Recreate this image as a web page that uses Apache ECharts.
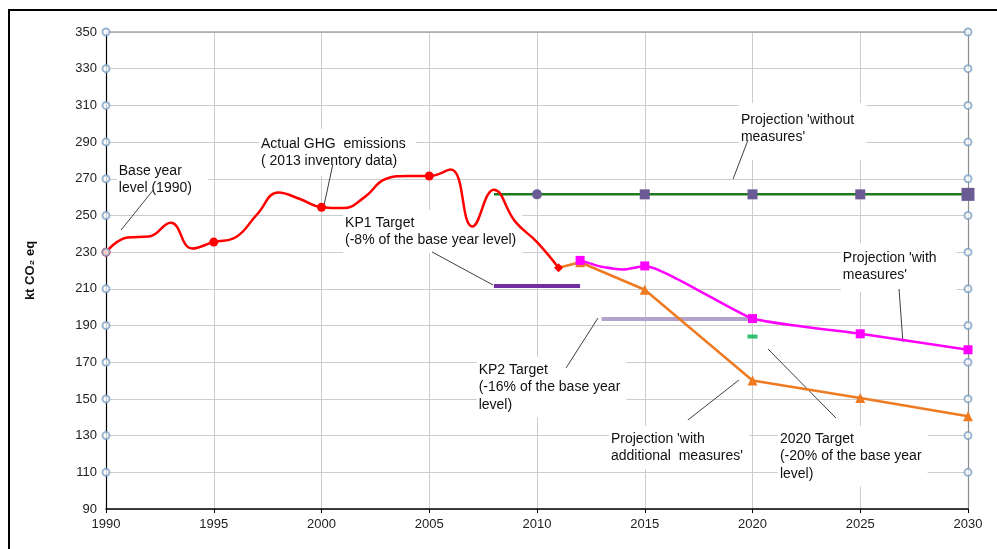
<!DOCTYPE html>
<html>
<head>
<meta charset="utf-8">
<script src="https://cdn.jsdelivr.net/npm/echarts@6/dist/echarts.min.js"></script>
<style>html,body{margin:0;padding:0;background:#fff}#c{width:997px;height:549px}</style>
</head>
<body>
<div id="c"></div>
<script>
// ---------- data ----------
const actualYears = [1990,1991,1992,1993,1994,1995,1996,1997,1998,1999,2000,2001,2002,2003,2004,2005,2006,2007,2008,2009,2010,2011];
const actualValues = [230,238,238.5,246,232,235.5,238,250.5,262.5,259,254.5,254,260,270,271.5,271.5,275,244,264,246.5,235.5,221.5];
const actualMarkerYears = [1990,1995,2000,2005];

const withoutYears = [2008,2010,2015,2020,2025,2030];
const withoutValues = [261.5,261.5,261.5,261.5,261.5,261.5];

const withYears = [2012,2013,2014,2015,2020,2025,2030];
const withValues = [225.5,222,220.5,222.5,193.8,185.5,176.8];
const withMarkerYears = [2012,2015,2020,2025,2030];

const additionalYears = [2011,2012,2015,2020,2025,2030];
const additionalValues = [221.5,224.5,209.5,160,150.5,140.5];

const kp1Years = [2008,2012];
const kp1Values = [211.5,211.5];
const kp2Years = [2013,2020];
const kp2Values = [193.5,193.5];
const target2020Year = [2020];
const target2020Value = [184];

const yTicks = [110,130,150,170,190,210,230,250,270,290,310,330,350];
const xEdges = [1990,2030];

// ---------- styles ----------
const FONT = "'Liberation Sans Narrow','Liberation Sans',Arial,sans-serif";
const chart = echarts.init(document.getElementById('c'), null, {renderer:'canvas'});

const zip = (xs, ys) => xs.map((x,i)=>[x, ys[i]]);

const actualData = zip(actualYears, actualValues).map(([x,y]) => {
  if (actualMarkerYears.includes(x)) return {value:[x,y], symbol:'circle', symbolSize:9};
  if (x === 2011) return {value:[x,y], symbol:'diamond', symbolSize:9};
  return {value:[x,y], symbol:'none'};
});
const withData = zip(withYears, withValues).map(([x,y]) =>
  withMarkerYears.includes(x) ? {value:[x,y], symbol:'rect', symbolSize:9} : {value:[x,y], symbol:'none'});
const addData = zip(additionalYears, additionalValues).map(([x,y]) =>
  x === 2011 ? {value:[x,y], symbol:'none'} : {value:[x,y], symbol:'triangle', symbolSize:10});
const withoutData = zip(withoutYears, withoutValues).map(([x,y]) => {
  if (x === 2008) return {value:[x,y], symbol:'none'};
  if (x === 2010) return {value:[x,y], symbol:'circle', symbolSize:10};
  if (x === 2030) return {value:[x,y], symbol:'rect', symbolSize:13};
  return {value:[x,y], symbol:'rect', symbolSize:10};
});
const circleData = [];
xEdges.forEach(x => yTicks.forEach(v => circleData.push([x, v])));

const labelStyle = {color:'#222', fontSize:13, fontFamily:FONT};

chart.setOption({
  animation:false,
  backgroundColor:'#fff',
  grid:{left:106, right:29, top:32, bottom:40, containLabel:false},
  xAxis:[{
    type:'value', min:1990, max:2030, interval:5,
    axisLine:{show:true, onZero:false, lineStyle:{color:'#000', width:1.5}},
    axisTick:{show:true, length:4, lineStyle:{color:'#000'}},
    axisLabel:{...labelStyle, margin:9, formatter:v=>String(v)},
    splitLine:{show:true, lineStyle:{color:'#cccccc', width:1}}
  },{
    type:'value', position:'top', min:1990, max:2030, interval:5,
    axisLine:{show:true, onZero:false, lineStyle:{color:'#a8a8a8', width:1.5}},
    axisTick:{show:false}, axisLabel:{show:false}, splitLine:{show:false}
  }],
  yAxis:[{
    type:'value', min:90, max:350, interval:20,
    name:'kt CO₂ eq', nameLocation:'middle', nameGap:69, nameRotate:90,
    nameTextStyle:{color:'#111', fontSize:13, fontWeight:'bold', fontFamily:FONT},
    axisLine:{show:true, onZero:false, lineStyle:{color:'#000', width:1.2}},
    axisTick:{show:false},
    axisLabel:{...labelStyle, margin:9},
    splitLine:{show:true, lineStyle:{color:'#cccccc', width:1}}
  },{
    type:'value', position:'right', min:90, max:350, interval:20,
    axisLine:{show:true, onZero:false, lineStyle:{color:'#8c8c8c', width:1.2}},
    axisTick:{show:false}, axisLabel:{show:false}, splitLine:{show:false}
  }],
  series:[
    {name:'KP1 Target', type:'line', data:zip(kp1Years,kp1Values), symbol:'none',
      lineStyle:{color:'#7030a0', width:4}, z:3},
    {name:'KP2 Target', type:'line', data:zip(kp2Years,kp2Values), symbol:'none',
      lineStyle:{color:'#b3a2c9', width:4}, z:3},
    {name:"Projection 'without measures'", type:'line', data:withoutData,
      lineStyle:{color:'#1f7a1f', width:2.5}, itemStyle:{color:'#6a5b94'}, z:4},
    {name:"Projection 'with additional measures'", type:'line', data:addData,
      lineStyle:{color:'#ee7a22', width:2.5}, itemStyle:{color:'#ee7a22'}, z:5},
    {name:"Projection 'with measures'", type:'line', data:withData, smooth:0.15,
      lineStyle:{color:'#ff00ff', width:2.5}, itemStyle:{color:'#ff00ff'}, z:6},
    {name:'Actual GHG emissions', type:'line', data:actualData, smooth:0.45,
      lineStyle:{color:'#ff0000', width:2.5}, itemStyle:{color:'#ff0000'}, z:7},
    {name:'2020 Target', type:'scatter', data:zip(target2020Year,target2020Value),
      symbol:'rect', symbolSize:[10,4], itemStyle:{color:'#00b050'}, z:5},
    {name:'axis markers', type:'scatter', data:circleData, symbol:'emptyCircle', symbolSize:7,
      itemStyle:{color:'#7fa3c6', borderWidth:1.5}, z:8, silent:true}
  ]
});

// ---------- annotations (anchored in data coordinates) ----------
const annotations = [
  {text:'Base year\nlevel (1990)', at:[1990.5,281.3], line:[[1992.23,264.4],[1990.7,242.1]], pad:[4,16,6,2]},
  {text:'Actual GHG  emissions\n( 2013 inventory data)', at:[1997.1,297.1], line:[[2000.53,278.0],[2000.12,255.7]], pad:[6,10,6,2]},
  {text:'KP1 Target\n(-8% of the base year level)', at:[2001.0,253.0], line:[[2005.13,230.1],[2007.96,212.1]], pad:[4,6,4,2]},
  {text:'KP2 Target\n(-16% of the base year\nlevel)', at:[2007.2,172.8], line:[[2011.35,166.9],[2012.83,194.1]], pad:[4,6,4,2]},
  {text:"Projection 'with\nadditional  measures'", at:[2013.34,135.2], line:[[2017.0,138.5],[2019.37,160.3]], pad:[4,6,4,2]},
  {text:'2020 Target\n(-20% of the base year\nlevel)', at:[2021.18,135.2], line:[[2020.72,177.2],[2023.87,139.6]], pad:[4,6,4,2]},
  {text:"Projection 'without\nmeasures'", at:[2019.37,311.3], line:[[2019.79,291.1],[2019.1,269.9]], pad:[8,12,14,2]},
  {text:"Projection 'with\nmeasures'", at:[2024.1,235.0], line:[[2026.8,209.9],[2026.98,181.0]], pad:[6,20,8,2]}
];
const toPx = p => chart.convertToPixel({xAxisIndex:0, yAxisIndex:0}, p);
const graphics = [];
annotations.forEach(a => {
  const p = toPx(a.at);
  graphics.push({type:'text', x:p[0], y:p[1], z:1,
    style:{text:a.text, fill:'#111', font:"14px " + FONT, lineHeight:17.5,
      backgroundColor:'#ffffff', padding:a.pad}});
  const l0 = toPx(a.line[0]), l1 = toPx(a.line[1]);
  graphics.push({type:'line', z:1, shape:{x1:l0[0],y1:l0[1],x2:l1[0],y2:l1[1]},
    style:{stroke:'#404040', lineWidth:1}});
});
// outer frame
graphics.push({type:'rect', z:60, shape:{x:9, y:10, width:1200, height:800},
  style:{fill:'none', stroke:'#000', lineWidth:2}});
chart.setOption({graphic:graphics});
</script>
</body>
</html>
